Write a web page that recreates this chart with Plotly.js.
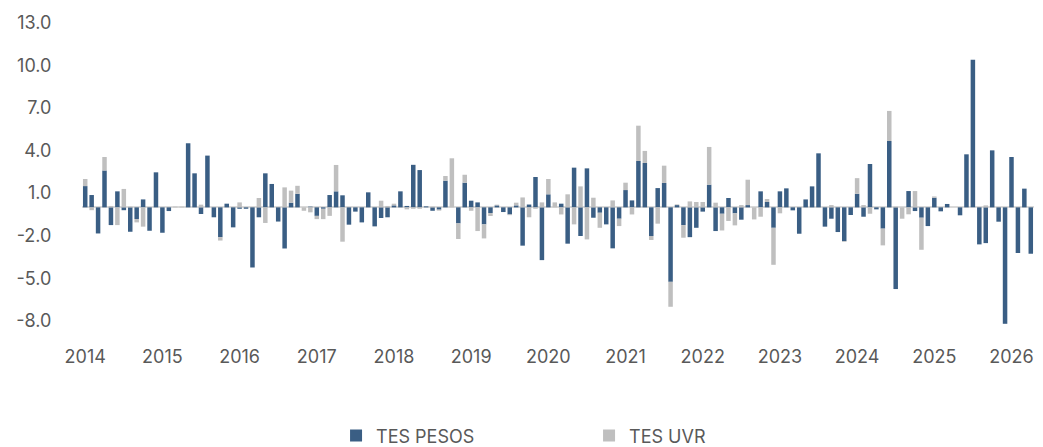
<!DOCTYPE html>
<html>
<head>
<meta charset="utf-8">
<script src="https://cdn.plot.ly/plotly-3.0.1.min.js"></script>
<style>html,body{margin:0;padding:0;background:#fff;}#chart{width:1043px;height:447px;}</style>
</head>
<body>
<div id="chart"></div>
<script>
// Years shown on the x axis
const years = ["2014","2015","2016","2017","2018","2019","2020","2021","2022","2023","2024","2025","2026"];

// Monthly categories Jan 2014 .. Apr 2026
const months = [];
for (let y = 2014; y <= 2026; y++) {
  for (let m = 1; m <= 12; m++) {
    if (y === 2026 && m > 4) break;
    months.push(y + "-" + (m < 10 ? "0" + m : m));
  }
}

// TES PESOS (monthly)
const tesPesos = [
  1.5, 0.87, -1.84, 2.6, -1.25, 1.13, -0.2, -1.72, -0.82, 0.56, -1.65, 2.47,
  -1.79, -0.26, 0, 0, 4.52, 2.4, -0.47, 3.65, -0.7, -2.1, 0.26, -1.41,
  -0.1, -0.1, -4.24, -0.7, 2.4, 1.65, -1.0, -2.9, 0.33, 0.96, 0, 0.05,
  -0.6, -0.1, 0.87, 1.13, 0.85, -1.22, -0.3, -1.06, 1.06, -1.34, -0.75, -0.7,
  0.14, 1.13, 0.1, 3.0, 2.63, 0.07, -0.24, -0.16, 1.88, 0, -1.13, 1.74,
  0.47, 0.35, -1.2, -0.4, 0.14, -0.33, -0.5, 0.14, -2.7, 0.2, 2.14, -3.72,
  0.92, 0, 0.26, -2.56, 2.8, -2.02, 2.75, -0.73, -0.38, -1.2, -2.89, -0.8,
  1.22, 0.49, 3.27, 3.13, -2.02, 1.36, 1.72, -5.25, 0.16, -1.25, -2.1, -1.44,
  -0.3, 1.6, -1.67, -0.45, 0.66, -0.42, -0.87, 0.16, 0, 1.13, 0.38, -1.44,
  1.13, 1.34, -0.21, -1.86, 0.56, 1.48, 3.81, -1.36, -0.8, -1.74, -2.38, -0.54,
  0.96, -0.66, 3.06, -0.14, -1.5, 4.68, -5.76, 0, 1.15, -0.26, -0.73, -1.32,
  0.68, -0.28, 0.24, 0, -0.56, 3.74, 10.4, -2.61, -2.52, 4.02, -1.01, -8.21,
  3.55, -3.22, 1.32, -3.27
];

// TES UVR (monthly)
const tesUvr = [
  0.5, -0.2, 0, 0.95, 0.1, -1.25, 1.3, 0.05, -0.24, -1.36, 0, 0,
  0, 0, 0.05, 0.05, 0, 0, 0.19, 0, 0, -0.24, 0, 0,
  0.35, 0, 0, 0.66, -1.1, 0, 0, 1.41, 0.85, 0.56, -0.24, -0.35,
  -0.23, -0.73, -0.6, 1.86, -2.42, 0, 0, 0, 0, 0, 0.47, 0.1,
  0.12, 0, -0.14, -0.1, -0.1, 0, 0.05, -0.07, 0.33, 3.46, -1.1, 0.56,
  -0.24, -1.67, -0.99, -0.21, 0.05, 0, -0.05, 0.19, 0.7, -0.7, -0.1, 0.35,
  1.08, 0.35, -0.5, 0.92, -1.2, 1.48, -2.26, 0.68, -1.06, 0, 0.49, -0.52,
  0.52, -0.5, 2.49, 0.85, -0.28, -1.15, 1.22, -1.76, 0.05, -0.89, 0.42, 0.38,
  0.38, 2.66, 0.33, -1.18, -0.96, -0.85, 0.16, 1.79, -0.85, -0.66, 0.21, -2.61,
  -0.42, 0, 0, 0, 0, 0, 0, 0, 0.16, 0, -0.05, 0,
  1.1, 0.16, -0.45, 0, -1.18, 2.12, 0.05, -0.8, -0.49, 1.15, -2.26, 0,
  0.09, 0, 0, 0, 0, 0, 0, 0, 0.14, 0, 0, 0,
  0, 0, 0, 0
];

const tickVals = years.map(y => y + "-01");

const fontFam = "Inter, 'Open Sans', sans-serif";
const txtColor = "#595959";

const traces = [
  {
    type: "bar", name: "TES PESOS", x: months, y: tesPesos,
    marker: { color: "#3A5E84" },
    hoverinfo: "x+y+name"
  },
  {
    type: "bar", name: "TES UVR", x: months, y: tesUvr,
    marker: { color: "#BFBFBF" },
    hoverinfo: "x+y+name"
  }
];

const layout = {
  width: 1043, height: 447,
  margin: { l: 82, r: 9, t: 23, b: 112 },
  paper_bgcolor: "#fff", plot_bgcolor: "#fff",
  barmode: "relative", bargap: 0.3,
  font: { family: fontFam, size: 18, color: txtColor },
  showlegend: true,
  legend: {
    orientation: "h", xref: "container", yref: "container",
    x: 0.3222, xanchor: "left", y: 0.025, yanchor: "middle",
    font: { family: fontFam, size: 18, color: txtColor },
    entrywidth: 208, entrywidthmode: "pixels", traceorder: "normal"
  },
  xaxis: {
    type: "category", tickmode: "array", tickvals: tickVals, ticktext: years,
    showgrid: false, zeroline: false, showline: false,
    ticks: "outside", ticklen: 5, tickcolor: "rgba(0,0,0,0)",
    tickfont: { family: fontFam, size: 18, color: txtColor },
    range: [-0.5, months.length - 0.5]
  },
  yaxis: {
    range: [-9, 13], tickmode: "array",
    tickvals: [13, 10, 7, 4, 1, -2, -5, -8],
    ticktext: ["13.0", "10.0", "7.0", "4.0", "1.0", "-2.0", "-5.0", "-8.0"],
    showgrid: false, showline: false,
    zeroline: true, zerolinecolor: "#D9D9D9", zerolinewidth: 2,
    ticks: "outside", ticklen: 26, tickcolor: "rgba(0,0,0,0)",
    tickfont: { family: fontFam, size: 18, color: txtColor }
  }
};

Plotly.newPlot("chart", traces, layout, { displayModeBar: false, staticPlot: true });
</script>
</body>
</html>
